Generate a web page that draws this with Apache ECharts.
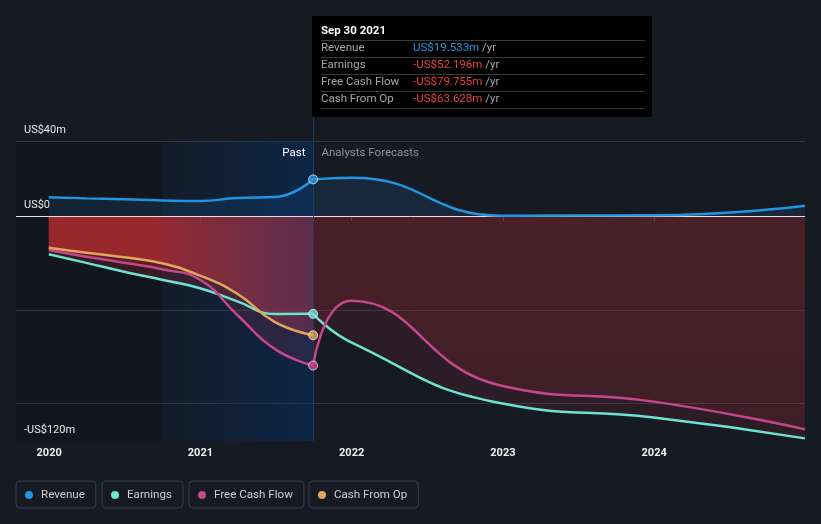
<!DOCTYPE html>
<html><head><meta charset="utf-8">
<script src="https://cdn.jsdelivr.net/npm/echarts@6/dist/echarts.min.js"></script>
<style>html,body{margin:0;padding:0;background:#151a23;}#c{width:821px;height:524px;}</style>
</head><body><div id="c"></div>
<script>
// ---- data ----
const pastDates = ['2019-12-31','2020-03-31','2020-06-30','2020-09-30','2020-12-31','2021-03-31','2021-06-30','2021-09-30'];
const forecastDates = ['2021-09-30','2021-12-31','2022-12-31','2023-12-31','2024-12-31'];
const revenuePast = [10.0, 9.4, 8.9, 8.3, 8.0, 9.6, 10.1, 19.533];
const revenueForecast = [19.533, 20.4, 0.2, 0.4, 5.5];
const earningsPast = [-20.4, -25.0, -29.7, -34.0, -38.5, -45.5, -52.3, -52.196];
const earningsForecast = [-52.196, -67.4, -100.0, -107.5, -118.6];
const fcfPast = [-18.1, -21.7, -24.9, -28.4, -34.0, -52.8, -71.0, -79.755];
const fcfForecast = [-79.755, -45.2, -90.7, -99.0, -113.8];
const cfoPast = [-16.9, -19.6, -22.0, -25.2, -31.8, -41.5, -56.6, -63.628];
const yearTicks = [2020, 2021, 2022, 2023, 2024];
const yLabelValues = [-120, 0, 40];
const gridValues = [40, -50, -100];
const seriesNames = ['Revenue', 'Earnings', 'Free Cash Flow', 'Cash From Op'];
const axisStart = '2019-10-13';
const lastYearStart = '2020-09-30';
const pastEnd = '2021-09-30';
const tooltipTitle = 'Sep 30 2021';
const pastLabel = 'Past';
const forecastLabel = 'Analysts Forecasts';

// ---- helpers ----
function yf(s){const [y,m,d]=s.split('-').map(Number);const t=Date.UTC(y,m-1,d),a=Date.UTC(y,0,1),b=Date.UTC(y+1,0,1);return y+(t-a)/(b-a);}
const pair=(dates,vals)=>dates.map((d,i)=>[yf(d),vals[i]]);
const C = {rev:'#2394df', earn:'#6de3d1', fcf:'#c4478b', cfo:'#e2a65c'};
const red = a=>`rgba(230,50,55,${a})`;
const blue = a=>`rgba(35,148,223,${a})`;
const FONT = 'Roboto, sans-serif';

function area(data, fill, opts){return Object.assign({type:'line',data,smooth:0.5,symbol:'none',lineStyle:{width:0,opacity:0},areaStyle:{color:fill,opacity:1},z:2,silent:true},opts||{});}
function line(name,data,color,opts){return Object.assign({name,type:'line',data,smooth:0.5,symbol:'none',lineStyle:{width:2.5,color},itemStyle:{color},z:4,silent:true},opts||{});}
const vgrad=(a,b)=>new echarts.graphic.LinearGradient(0,0,0,1,[{offset:0,color:a},{offset:1,color:b}]);

const xMin = yf(axisStart), xLY = yf(lastYearStart), xPE = yf(pastEnd);
const fmtM = v => (v===0?'US$0':(v<0?'-':'')+'US$'+Math.abs(v)+'m');

const chart = echarts.init(document.getElementById('c'), null, {renderer:'canvas'});
const option = {
  animation:false,
  backgroundColor:'#151a23',
  textStyle:{fontFamily:FONT},
  grid:{left:16,right:16,top:141,bottom:83},
  xAxis:{type:'value',min:xMin,max:yf(forecastDates[forecastDates.length-1]),
    axisLine:{lineStyle:{color:'#3b404a',width:1}},
    axisTick:{show:true,customValues:yearTicks,length:5,lineStyle:{color:'#3b404a'}},
    axisLabel:{customValues:yearTicks,formatter:v=>String(Math.round(v)),color:'#f0f0f0',fontSize:11,fontWeight:'bold',margin:7,fontFamily:FONT},
    splitLine:{show:false}},
  yAxis:{type:'value',min:-120,max:40,
    axisLine:{show:false},axisTick:{show:false},splitLine:{show:false},
    axisLabel:{inside:true,customValues:yLabelValues,formatter:fmtM,color:'#e8e8e8',fontSize:11,verticalAlign:'bottom',align:'left',padding:[0,0,5,0],margin:8,fontFamily:FONT}},
  legend: seriesNames.map((n,i)=>({data:[n],left:[16,102,189,309][i],top:481,icon:'circle',itemWidth:14,itemHeight:8,
    padding:[8,11,7,9],borderColor:'#3a3f4a',borderWidth:1,borderRadius:4,selectedMode:false,
    itemStyle:{borderWidth:0},textStyle:{color:'#cdd1d6',fontSize:11.6,fontFamily:FONT}})),
  series:[
    {type:'line',data:[],silent:true,
      markArea:{silent:true,z:0,itemStyle:{color:'rgba(0,0,0,0.13)'},data:[[{xAxis:xMin},{xAxis:xLY}]]},
      markLine:{silent:true,z:1,symbol:['none','none'],label:{show:false},lineStyle:{color:'#31363f',width:1,type:'solid'},
        data:gridValues.map(v=>({yAxis:v}))}},
    area(pair(pastDates,revenuePast), blue(0.12)),
    area(pair(forecastDates,revenueForecast), blue(0.12), {smoothMonotone:'x'}),
    area(pair(pastDates,earningsPast), red(0.18)),
    area(pair(forecastDates,earningsForecast), red(0.11)),
    area(pair(pastDates,fcfPast), red(0.2)),
    area(pair(forecastDates,fcfForecast), vgrad(red(0.17),red(0.10))),
    area(pair(pastDates,cfoPast), red(0.45)),
    {type:'line',data:[],silent:true,
      markArea:{silent:true,z:3,itemStyle:{color:new echarts.graphic.LinearGradient(0,0,1,0,[{offset:0,color:'rgba(0,55,125,0.06)'},{offset:1,color:'rgba(0,55,125,0.40)'}])},
        data:[[{xAxis:xLY},{xAxis:xPE}]]},
      markLine:{silent:true,z:3.5,symbol:['none','none'],label:{show:false},lineStyle:{color:'rgba(255,236,236,0.9)',width:1,type:'solid'},data:[{yAxis:0}]}},
    line('Revenue',pair(pastDates,revenuePast),C.rev),
    line('Revenue',pair(forecastDates,revenueForecast),C.rev,{smoothMonotone:'x'}),
    line('Earnings',pair(pastDates,earningsPast),C.earn),
    line('Earnings',pair(forecastDates,earningsForecast),C.earn),
    line('Free Cash Flow',pair(pastDates,fcfPast),C.fcf),
    line('Free Cash Flow',pair(forecastDates,fcfForecast),C.fcf),
    line('Cash From Op',pair(pastDates,cfoPast),C.cfo),
    {type:'scatter',silent:true,z:6,symbolSize:9,
      data:[[revenuePast,C.rev],[earningsPast,C.earn],[fcfPast,C.fcf],[cfoPast,C.cfo]].map(([arr,c])=>({value:[xPE,arr[arr.length-1]],itemStyle:{color:c,borderColor:'rgba(255,255,255,0.85)',borderWidth:1}}))}
  ]
};
chart.setOption(option);

// ---- overlay: divider, tooltip box, period labels ----
const pBot = chart.convertToPixel({gridIndex:0},[xPE,-120]);
const vx = Math.round(pBot[0])+0.5;
const bx = Math.round(pBot[0])-1;
const rows = [
  ['Revenue', revenuePast, C.rev],
  ['Earnings', earningsPast, '#e8413e'],
  ['Free Cash Flow', fcfPast, '#e8413e'],
  ['Cash From Op', cfoPast, '#e8413e']
];
const fmtV = v => (v<0?'-':'')+'US$'+Math.abs(v).toFixed(3)+'m';
const TF = '11.5px '+FONT;
const g = [
  {type:'line',z:3.6,silent:true,shape:{x1:vx,y1:117,x2:vx,y2:pBot[1]},style:{stroke:'#1e3a5c',lineWidth:1}},
  {type:'rect',z:20,silent:true,shape:{x:bx,y:16,width:340,height:101},style:{fill:'#000'}},
  {type:'text',z:21,silent:true,x:bx+9,y:31,style:{text:tooltipTitle,fill:'#ffffff',font:'bold 11.5px '+FONT,textVerticalAlign:'middle',verticalAlign:'middle'}}
];
[40.5,57.5,74.5,91.5,108.5].forEach(y=>g.push({type:'line',z:21,silent:true,shape:{x1:bx+9,y1:y,x2:bx+333,y2:y},style:{stroke:'#3a3a3a',lineWidth:1}}));
rows.forEach((r,i)=>{
  const y = 48.5 + i*17;
  const v = r[1][r[1].length-1];
  g.push({type:'text',z:21,silent:true,x:bx+9,y:y,style:{text:r[0],fill:'#a3a6ab',font:TF,textVerticalAlign:'middle',verticalAlign:'middle'}});
  g.push({type:'text',z:21,silent:true,x:bx+101,y:y,style:{text:'{v|'+fmtV(v)+'} {u|/yr}',font:TF,textVerticalAlign:'middle',verticalAlign:'middle',
    rich:{v:{fill:r[2],font:TF},u:{fill:'#a3a6ab',font:TF}}}});
});
g.push({type:'text',z:21,silent:true,x:vx-8,y:153,style:{text:pastLabel,fill:'#ffffff',font:TF,textAlign:'right',align:'right',textVerticalAlign:'middle',verticalAlign:'middle'}});
g.push({type:'text',z:21,silent:true,x:vx+8,y:153,style:{text:forecastLabel,fill:'#8e949c',font:TF,textAlign:'left',align:'left',textVerticalAlign:'middle',verticalAlign:'middle'}});
chart.setOption({graphic:g});
</script>
</body></html>
